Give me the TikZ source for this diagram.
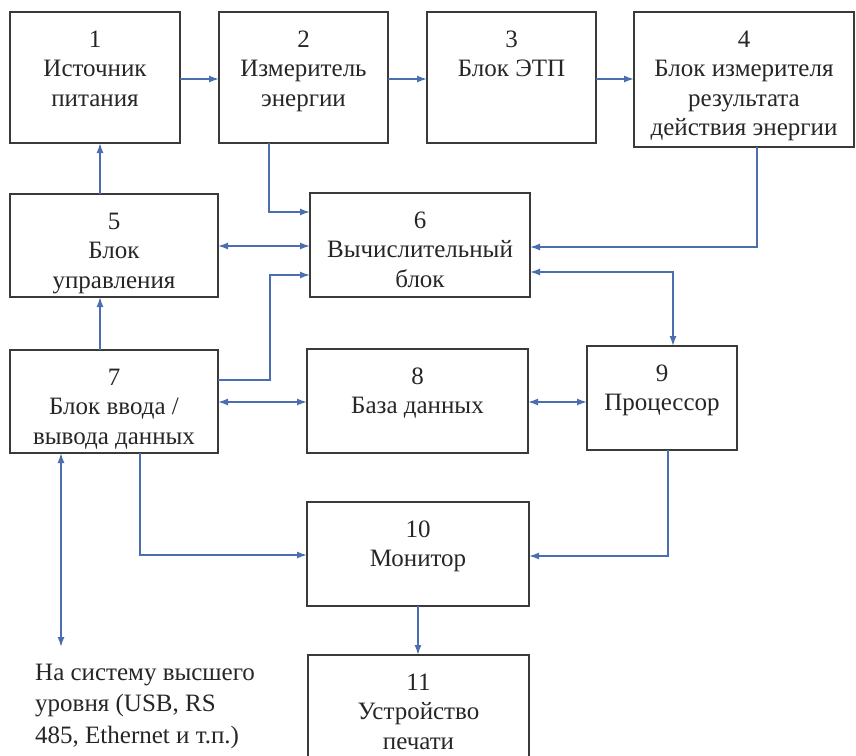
\documentclass[tikz,border=0pt]{standalone}
\usepackage{fontspec}
\setmainfont{Liberation Serif}
\newfontfamily\tnr{Liberation Serif}
\usetikzlibrary{arrows.meta,calc}
\definecolor{lineblue}{HTML}{4A6EAF}
\definecolor{boxgray}{HTML}{3A3A3A}
\begin{document}
\begin{tikzpicture}[x=1pt,y=-1pt,
  box/.style={draw=boxgray,line width=1.6pt,inner sep=0pt,outer sep=0pt},
  lbl/.style={anchor=north,inner sep=0pt,align=center,font=\tnr\fontsize{25}{29.5}\selectfont,text=black!85},
  conn/.style={draw=lineblue,line width=1.5pt},
  arr/.style={conn,-{Latex[length=10pt,width=7pt]}},
  darr/.style={conn,{Latex[length=10pt,width=7pt]}-{Latex[length=10pt,width=7pt]}}]
\useasboundingbox (0,0) rectangle (856,755);
\clip (0,0) rectangle (856,755);

% boxes
\node[box,minimum width=170pt,minimum height=131pt] (b1) at (95,77.5) {};
\node[box,minimum width=169pt,minimum height=131pt] (b2) at (303.5,77.5) {};
\node[box,minimum width=169pt,minimum height=131pt] (b3) at (511.5,77.5) {};
\node[box,minimum width=220pt,minimum height=135pt] (b4) at (744,79.5) {};
\node[box,minimum width=208pt,minimum height=103pt] (b5) at (114,245.5) {};
\node[box,minimum width=220pt,minimum height=104pt] (b6) at (420,245) {};
\node[box,minimum width=208pt,minimum height=103pt] (b7) at (114,401.5) {};
\node[box,minimum width=221pt,minimum height=104pt] (b8) at (417.5,401) {};
\node[box,minimum width=150pt,minimum height=104pt] (b9) at (662,398) {};
\node[box,minimum width=222pt,minimum height=104pt] (b10) at (418,554) {};
\node[box,minimum width=221pt,minimum height=115pt] (b11) at (418.5,712.5) {};

% texts
\node[lbl] (t1) at ([yshift=-15pt]b1.north) {\rule{0pt}{20pt}1\\Источник\\питания};
\node[lbl] (t2) at ([yshift=-15pt]b2.north) {\rule{0pt}{20pt}2\\Измеритель\\энергии};
\node[lbl] (t3) at ([yshift=-15pt]b3.north) {\rule{0pt}{20pt}3\\Блок ЭТП};
\node[lbl] (t4) at ([yshift=-15pt]b4.north) {\rule{0pt}{20pt}4\\Блок измерителя\\результата\\действия энергии};
\node[lbl] (t5) at ([yshift=-15pt]b5.north) {\rule{0pt}{20pt}5\\Блок\\управления};
\node[lbl] (t6) at ([yshift=-15pt]b6.north) {\rule{0pt}{20pt}6\\Вычислительный\\блок};
\node[lbl] (t7) at ([yshift=-15pt]b7.north) {\rule{0pt}{20pt}7\\Блок ввода /\\вывода данных};
\node[lbl] (t8) at ([yshift=-15pt]b8.north) {\rule{0pt}{20pt}8\\База данных};
\node[lbl] (t9) at ([yshift=-15pt]b9.north) {\rule{0pt}{20pt}9\\Процессор};
\node[lbl] (t10) at ([yshift=-15pt]b10.north) {\rule{0pt}{20pt}10\\Монитор};
\node[lbl] (t11) at ([yshift=-15pt]b11.north) {\rule{0pt}{20pt}11\\Устройство\\печати};
\node[anchor=north west,inner sep=0pt,align=left,font=\tnr\fontsize{25}{31.5}\selectfont,text=black!85] (ext-text) at (35,660)
  {\rule{0pt}{20pt}На систему высшего\\уровня (USB, RS\\485, Ethernet и т.п.)};

% helper coordinates
\coordinate (h1) at (0,79);
\coordinate (vx) at (100,0);
\coordinate (p2) at (269,212);
\coordinate (p56) at (0,246);
\coordinate (p4) at (757,247);
\coordinate (p9) at (673,272);
\coordinate (q1) at (270,380);
\coordinate (q2) at (270,275);
\coordinate (h78) at (0,402);
\coordinate (ext) at (61,647);
\coordinate (r1) at (140,555);
\coordinate (r2) at (668,556);
\coordinate (r3) at (418,0);

% connectors
\draw[arr] (b1.east |- h1) -- (b2.west |- h1);
\draw[arr] (b2.east |- h1) -- (b3.west |- h1);
\draw[arr] (b3.east |- h1) -- (b4.west |- h1);
\draw[arr] (b5.north -| vx) -- (b1.south -| vx);
\draw[arr] (b7.north -| vx) -- (b5.south -| vx);
\draw[arr] (b2.south -| p2) -- (p2) -- (p2 -| b6.west);
\draw[darr] (b5.east |- p56) -- (b6.west |- p56);
\draw[arr] (b4.south -| p4) -- (p4) -- (p4 -| b6.east);
\draw[darr] (p9 -| b6.east) -- (p9) -- (b9.north -| p9);
\draw[arr] (b7.east |- q1) -- (q1) -- (q2) -- (q2 -| b6.west);
\draw[darr] (b7.east |- h78) -- (b8.west |- h78);
\draw[darr] (b8.east |- h78) -- (b9.west |- h78);
\draw[darr] (ext) -- (ext |- b7.south);
\draw[arr] (b7.south -| r1) -- (r1) -- (r1 -| b10.west);
\draw[arr] (b9.south -| r2) -- (r2) -- (r2 -| b10.east);
\draw[arr] (b10.south -| r3) -- (b11.north -| r3);
\end{tikzpicture}
\end{document}
